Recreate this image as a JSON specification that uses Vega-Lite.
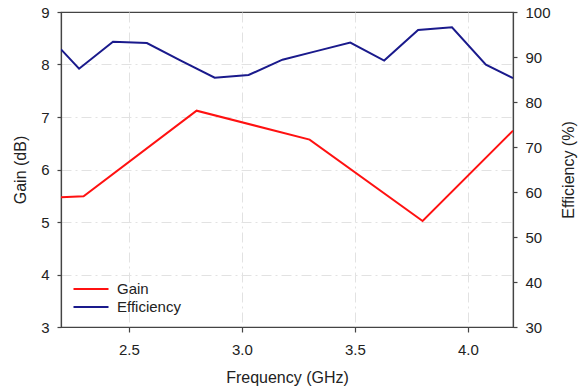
{
  "$schema": "https://vega.github.io/schema/vega-lite/v6.json",
  "width": 452,
  "height": 315,
  "autosize": {"type": "none"},
  "padding": {"left": 61, "top": 12, "right": 66, "bottom": 62},
  "background": "white",
  "config": {
    "font": "Liberation Sans",
    "view": {"stroke": "#444444", "strokeWidth": 1.2},
    "axis": {
      "domainColor": "#444444",
      "domainWidth": 1.2,
      "tickColor": "#444444",
      "tickWidth": 1.2,
      "labelFont": "Liberation Sans",
      "labelFontSize": 15,
      "labelColor": "#222222",
      "titleFont": "Liberation Sans",
      "titleFontSize": 16,
      "titleFontWeight": "normal",
      "titleColor": "#222222",
      "gridColor": "#e2e2e2",
      "gridWidth": 1,
      "gridDash": [10, 4, 2, 4]
    },
    "legend": {
      "labelFont": "Liberation Sans",
      "labelFontSize": 15,
      "labelColor": "#222222"
    }
  },
  "datasets": {
    "gain": [
      {"freq": 2.2, "value": 5.47, "series": "Gain"},
      {"freq": 2.3, "value": 5.49, "series": "Gain"},
      {"freq": 2.8, "value": 7.12, "series": "Gain"},
      {"freq": 3.3, "value": 6.57, "series": "Gain"},
      {"freq": 3.8, "value": 5.02, "series": "Gain"},
      {"freq": 4.2, "value": 6.74, "series": "Gain"}
    ],
    "efficiency": [
      {"freq": 2.2, "value": 91.7, "series": "Efficiency"},
      {"freq": 2.28, "value": 87.4, "series": "Efficiency"},
      {"freq": 2.43, "value": 93.4, "series": "Efficiency"},
      {"freq": 2.58, "value": 93.1, "series": "Efficiency"},
      {"freq": 2.73, "value": 89.2, "series": "Efficiency"},
      {"freq": 2.88, "value": 85.4, "series": "Efficiency"},
      {"freq": 3.03, "value": 86.0, "series": "Efficiency"},
      {"freq": 3.18, "value": 89.4, "series": "Efficiency"},
      {"freq": 3.33, "value": 91.3, "series": "Efficiency"},
      {"freq": 3.48, "value": 93.2, "series": "Efficiency"},
      {"freq": 3.63, "value": 89.2, "series": "Efficiency"},
      {"freq": 3.78, "value": 96.0, "series": "Efficiency"},
      {"freq": 3.93, "value": 96.6, "series": "Efficiency"},
      {"freq": 4.08, "value": 88.3, "series": "Efficiency"},
      {"freq": 4.2, "value": 85.3, "series": "Efficiency"}
    ]
  },
  "layer": [
    {
      "data": {"name": "gain"},
      "mark": {"type": "line", "strokeWidth": 2, "clip": true},
      "encoding": {
        "x": {
          "field": "freq",
          "type": "quantitative",
          "title": "Frequency (GHz)",
          "scale": {"domain": [2.2, 4.2], "nice": false, "zero": false},
          "axis": {
            "values": [2.5, 3.0, 3.5, 4.0],
            "format": ".1f",
            "tickSize": 5,
            "labelPadding": 10,
            "titlePadding": 12,
            "grid": true
          }
        },
        "y": {
          "field": "value",
          "type": "quantitative",
          "title": "Gain (dB)",
          "scale": {"domain": [3, 9], "nice": false, "zero": false},
          "axis": {
            "orient": "left",
            "values": [3, 4, 5, 6, 7, 8, 9],
            "format": "d",
            "tickSize": 4,
            "labelPadding": 8,
            "titlePadding": 12,
            "grid": true,
            "gridOpacity": {
              "condition": {"test": "datum.value == 3 || datum.value == 9", "value": 0},
              "value": 1
            }
          }
        },
        "color": {
          "field": "series",
          "type": "nominal",
          "scale": {"domain": ["Gain", "Efficiency"], "range": ["#ff1111", "#1a1a8c"]},
          "legend": {
            "title": null,
            "orient": "none",
            "legendX": 22,
            "legendY": 269,
            "padding": 0,
            "symbolType": "M-2.5,0H2.5",
            "symbolSize": 196,
            "symbolStrokeWidth": 2,
            "labelOffset": 18,
            "rowPadding": 2
          }
        }
      }
    },
    {
      "data": {"name": "efficiency"},
      "mark": {"type": "line", "strokeWidth": 2, "clip": true},
      "encoding": {
        "x": {"field": "freq", "type": "quantitative"},
        "y": {
          "field": "value",
          "type": "quantitative",
          "title": "Efficiency (%)",
          "scale": {"domain": [30, 100], "nice": false, "zero": false},
          "axis": {
            "orient": "right",
            "values": [30, 40, 50, 60, 70, 80, 90, 100],
            "format": "d",
            "tickSize": 4,
            "labelPadding": 8,
            "titlePadding": 26,
            "titleAngle": 270,
            "grid": false
          }
        },
        "color": {"field": "series", "type": "nominal"}
      }
    }
  ],
  "resolve": {"scale": {"y": "independent"}}
}
